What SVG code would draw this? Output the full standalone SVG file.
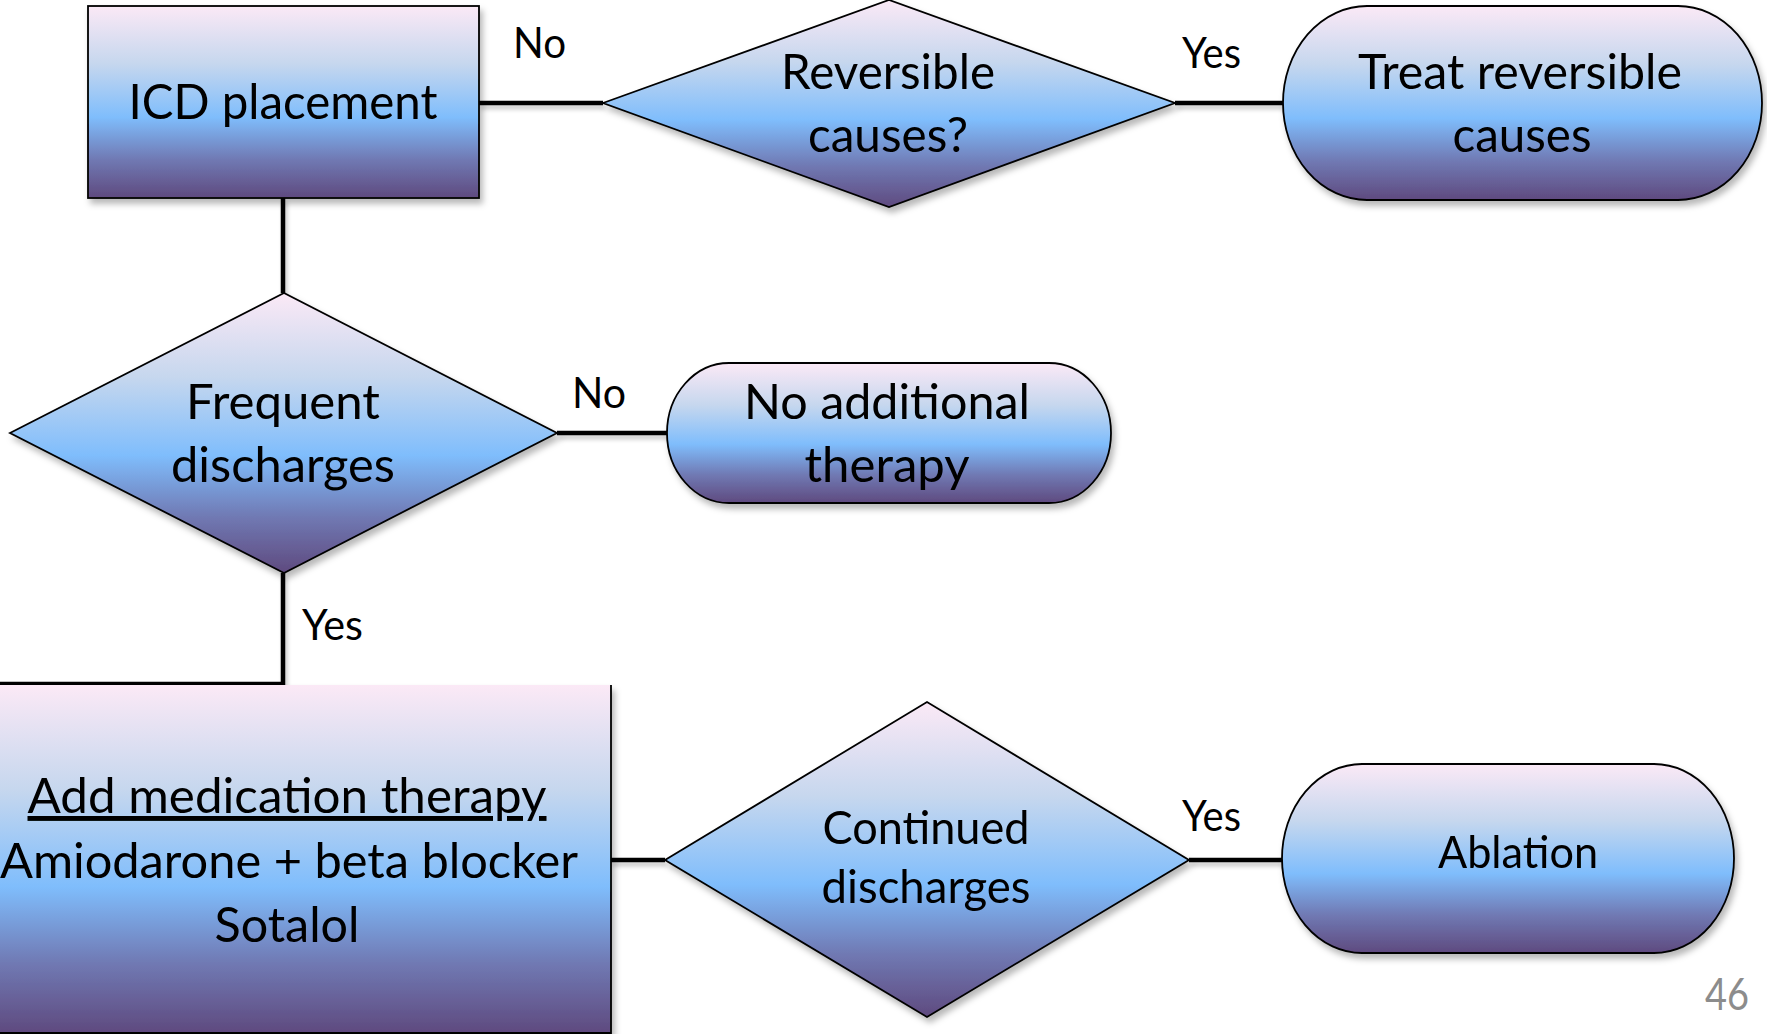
<svg xmlns="http://www.w3.org/2000/svg" width="1767" height="1034" viewBox="0 0 1767 1034">
<defs>
<linearGradient id="g" x1="0" y1="0" x2="0" y2="1">
<stop offset="0" stop-color="#fbe9f6"/>
<stop offset="0.3" stop-color="#c6d7ee"/>
<stop offset="0.58" stop-color="#7fbdfc"/>
<stop offset="0.8" stop-color="#7079b3"/>
<stop offset="1" stop-color="#5f4a7f"/>
</linearGradient>
<filter id="sh" x="-10%" y="-10%" width="125%" height="130%">
<feDropShadow dx="3" dy="5" stdDeviation="3" flood-color="#000" flood-opacity="0.28"/>
</filter>
<filter id="lsh" x="-5%" y="-50%" width="110%" height="300%">
<feDropShadow dx="2" dy="4" stdDeviation="2" flood-color="#000" flood-opacity="0.22"/>
</filter>
</defs>
<style>
.shape{fill:url(#g);stroke:#000;stroke-width:1.8}
.conn{fill:none;stroke:#000;stroke-width:4.5}
text{font-family:Lato,"Open Sans","Liberation Sans",sans-serif;fill:#000;text-anchor:middle}
.t{font-size:49px}
.tm{font-size:46px}
.lbl{font-size:43px;text-anchor:start}
.pg{font-size:44px;text-anchor:start;fill:#8c8c8c}
</style>
<rect width="1767" height="1034" fill="#fff"/>

<g id="connectors" filter="url(#lsh)">
<path class="conn" d="M479 103 H603"/>
<path class="conn" d="M283 198 V293"/>
<path class="conn" d="M1175 103 H1283"/>
<path class="conn" d="M557 433 H667"/>
<path class="conn" d="M283 573 V684 H-20"/>
<path class="conn" d="M611 860 H665"/>
<path class="conn" d="M1189 860 H1282"/>
</g>

<g id="labels">
<text class="lbl" x="513" y="58" textLength="53" lengthAdjust="spacingAndGlyphs">No</text>
<text class="lbl" x="1182" y="68" textLength="59" lengthAdjust="spacingAndGlyphs">Yes</text>
<text class="lbl" x="572" y="408" textLength="54" lengthAdjust="spacingAndGlyphs">No</text>
<text class="lbl" x="302" y="640" textLength="61" lengthAdjust="spacingAndGlyphs">Yes</text>
<text class="lbl" x="1182" y="831" textLength="59" lengthAdjust="spacingAndGlyphs">Yes</text>
</g>

<g id="icd" filter="url(#sh)">
<rect class="shape" x="88" y="6" width="391" height="192"/>
<text class="t" x="283" y="119" textLength="309" lengthAdjust="spacingAndGlyphs">ICD placement</text>
</g>

<g id="reversible" filter="url(#sh)">
<polygon class="shape" points="603,103 889,0 1175,103 889,207"/>
<text class="t" x="888" y="89" textLength="214" lengthAdjust="spacingAndGlyphs">Reversible</text>
<text class="t" x="888" y="152" textLength="160" lengthAdjust="spacingAndGlyphs">causes?</text>
</g>

<g id="treat" filter="url(#sh)">
<rect class="shape" x="1283" y="6" width="479" height="194" rx="84" ry="97"/>
<text class="t" x="1520" y="89" textLength="324" lengthAdjust="spacingAndGlyphs">Treat reversible</text>
<text class="t" x="1522" y="152" textLength="139" lengthAdjust="spacingAndGlyphs">causes</text>
</g>

<g id="frequent" filter="url(#sh)">
<polygon class="shape" points="10,433 284,293 557,433 284,573"/>
<text class="t" x="283" y="419" textLength="194" lengthAdjust="spacingAndGlyphs">Frequent</text>
<text class="t" x="283" y="482" textLength="224" lengthAdjust="spacingAndGlyphs">discharges</text>
</g>

<g id="noadditional" filter="url(#sh)">
<rect class="shape" x="667" y="363" width="444" height="140" rx="62" ry="70"/>
<text class="t" x="887" y="419" textLength="286" lengthAdjust="spacingAndGlyphs">No additional</text>
<text class="t" x="887" y="482" textLength="165" lengthAdjust="spacingAndGlyphs">therapy</text>
</g>

<g id="medication" filter="url(#sh)">
<rect x="-30" y="685" width="641" height="348" fill="url(#g)" stroke="none"/>
<path d="M611 685 V1033 H-30" fill="none" stroke="#000" stroke-width="1.8"/>
<text class="t" x="287" y="813" textLength="519" lengthAdjust="spacingAndGlyphs" text-decoration="underline">Add medication therapy</text>
<text class="t" x="289" y="878" textLength="578" lengthAdjust="spacingAndGlyphs">Amiodarone + beta blocker</text>
<text class="t" x="287" y="942" textLength="145" lengthAdjust="spacingAndGlyphs">Sotalol</text>
</g>

<g id="continued" filter="url(#sh)">
<polygon class="shape" points="665,860 927,702 1189,860 927,1017"/>
<text class="tm" x="926" y="844" textLength="207" lengthAdjust="spacingAndGlyphs">Continued</text>
<text class="tm" x="926" y="903" textLength="209" lengthAdjust="spacingAndGlyphs">discharges</text>
</g>

<g id="ablation" filter="url(#sh)">
<rect class="shape" x="1282" y="764" width="452" height="189" rx="80" ry="94.5"/>
<text class="t" x="1518" y="868" textLength="160" lengthAdjust="spacingAndGlyphs" style="font-size:44px">Ablation</text>
</g>

<text class="pg" x="1705" y="1010" textLength="44" lengthAdjust="spacingAndGlyphs">46</text>
</svg>
